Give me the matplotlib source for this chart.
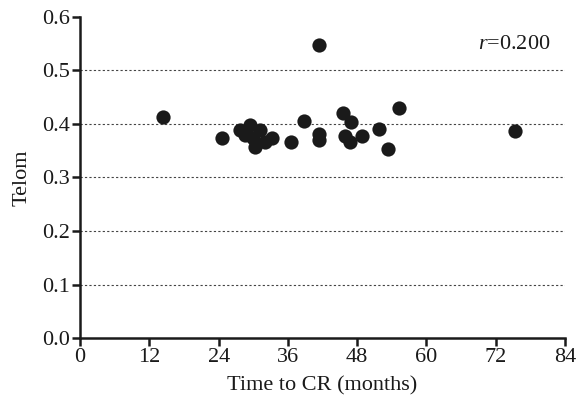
import matplotlib
matplotlib.use("Agg")
import matplotlib.pyplot as plt

# values
time_to_cr = [14.3, 24.6, 27.7, 28.5, 29.4, 30.0, 30.3, 31.1, 32.0, 33.2,
              36.5, 38.7, 41.3, 41.3, 41.3, 45.6, 46.9, 45.9, 46.8, 48.8,
              51.7, 53.4, 55.3, 75.4]
telom = [0.412, 0.373, 0.388, 0.379, 0.398, 0.373, 0.357, 0.388, 0.366, 0.373,
         0.367, 0.406, 0.548, 0.381, 0.370, 0.420, 0.403, 0.377, 0.367, 0.377,
         0.390, 0.353, 0.429, 0.387]
x_ticks = [0, 12, 24, 36, 48, 60, 72, 84]
y_ticks = [0.0, 0.1, 0.2, 0.3, 0.4, 0.5, 0.6]

plt.rcParams['font.family'] = ['Liberation Serif', 'DejaVu Serif']
plt.rcParams['font.size'] = 16
plt.rcParams['mathtext.fontset'] = 'custom'
plt.rcParams['mathtext.it'] = 'Liberation Serif:italic'
plt.rcParams['mathtext.rm'] = 'Liberation Serif'

fig = plt.figure(figsize=(5.76, 4.01), dpi=100)
ax = fig.add_axes([0.139, 0.157, 0.842, 0.801])

for yv in y_ticks[1:-1]:
    ax.axhline(yv, color='#444444', lw=0.8, ls=(0, (2, 2)), zorder=1)

ax.scatter(time_to_cr, telom, s=105, color='#1a1a1a', zorder=3, linewidths=0)

ax.set_xlim(0, 84)
ax.set_ylim(0, 0.6)
ax.set_xticks(x_ticks)
ax.set_yticks(y_ticks)
ax.set_yticklabels(['%.1f' % v for v in y_ticks])
ax.spines['top'].set_visible(False)
ax.spines['right'].set_visible(False)
for s in ['left', 'bottom']:
    ax.spines[s].set_linewidth(1.8)
    ax.spines[s].set_color('#1a1a1a')
ax.tick_params(width=1.8, length=6, color='#1a1a1a', labelcolor='#1a1a1a', pad=1)

ax.set_xlabel('Time to CR (months)', color='#1a1a1a')
ax.xaxis.set_label_coords(0.5, -0.12)
ax.set_ylabel('Telom', labelpad=8, color='#1a1a1a')

ax.text(0.97, 0.915, r'$\mathit{r}$=0.200', transform=ax.transAxes,
        ha='right', va='center', color='#1a1a1a')

plt.savefig('out.png', dpi=100)
